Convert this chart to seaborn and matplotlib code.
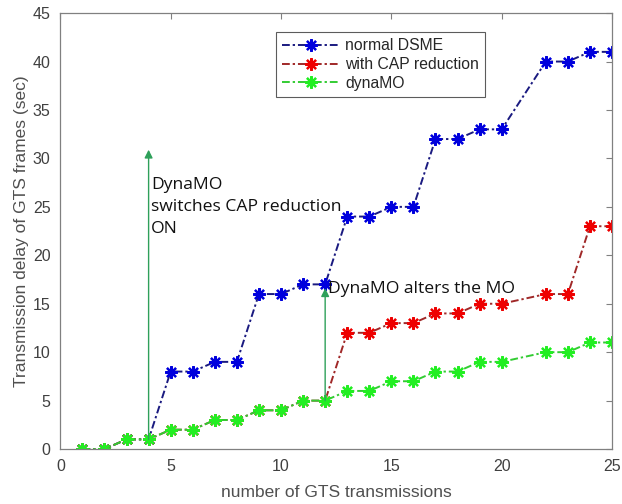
import matplotlib
matplotlib.use("Agg")
import matplotlib.pyplot as plt
import seaborn as sns
import pandas as pd
import numpy as np

x_vals = [1, 2, 3, 4, 5, 6, 7, 8, 9, 10, 11, 12, 13, 14, 15, 16, 17, 18, 19, 20, 22, 23, 24, 25]
normal_dsme = [0, 0, 1, 1, 8, 8, 9, 9, 16, 16, 17, 17, 24, 24, 25, 25, 32, 32, 33, 33, 40, 40, 41, 41]
cap_reduction = [0, 0, 1, 1, 2, 2, 3, 3, 4, 4, 5, 5, 12, 12, 13, 13, 14, 14, 15, 15, 16, 16, 23, 23]
dynamo = [0, 0, 1, 1, 2, 2, 3, 3, 4, 4, 5, 5, 6, 6, 7, 7, 8, 8, 9, 9, 10, 10, 11, 11]
series_names = ["normal DSME", "with CAP reduction", "dynaMO"]
x_ticks = [0, 5, 10, 15, 20, 25]
y_ticks = [0, 5, 10, 15, 20, 25, 30, 35, 40, 45]

df = pd.DataFrame({
    "x": x_vals * 3,
    "y": normal_dsme + cap_reduction + dynamo,
    "series": [series_names[0]] * len(x_vals) + [series_names[1]] * len(x_vals) + [series_names[2]] * len(x_vals),
})

sns.set_style("white")
plt.rcParams["font.family"] = ["Liberation Sans", "DejaVu Sans"]

fig = plt.figure(figsize=(6.22, 5.04), dpi=100)
ax = fig.add_axes([0.097, 0.109, 0.887, 0.865])

line_colors = ["#1a1a80", "#a02828", "#33cc33"]
marker_colors = ["#0000dd", "#ee0000", "#22ee22"]
asterisk = (8, 2, 0)

for name, lc, mc in zip(series_names, line_colors, marker_colors):
    sub = df[df["series"] == name]
    sns.lineplot(data=sub, x="x", y="y", ax=ax, color=lc, linestyle=(0, (4, 1.5, 1.2, 1.5)), linewidth=1.4,
                 marker=asterisk, markersize=9, markeredgecolor=mc, markerfacecolor=mc,
                 markeredgewidth=1.6, label=name, estimator=None, sort=False)

# annotation arrows
arrow_col = "#2ea05a"
ax.annotate("", xy=(4, 30.9), xytext=(4, 1), arrowprops=dict(arrowstyle="-|>", color=arrow_col, lw=1.0, mutation_scale=12, shrinkA=0, shrinkB=0))
ax.annotate("", xy=(12, 16.6), xytext=(12, 5), arrowprops=dict(arrowstyle="-|>", color=arrow_col, lw=1.0, mutation_scale=12, shrinkA=0, shrinkB=0))
ax.text(4.12, 25.0, "DynaMO\nswitches CAP reduction\nON", fontsize=12.6, family=["Open Sans", "DejaVu Sans"],
        va="center", ha="left", color="#111111", linespacing=1.5)
ax.text(12.15, 16.5, "DynaMO alters the MO", fontsize=12.6, family=["Open Sans", "DejaVu Sans"],
        va="center", ha="left", color="#111111")

ax.set_xlim(0, 25)
ax.set_ylim(0, 45)
ax.set_xticks(x_ticks)
ax.set_yticks(y_ticks)
ax.tick_params(direction="in", top=True, right=True, length=4, colors="#808080", labelcolor="#404040", labelsize=11.5, pad=7)
for s in ax.spines.values():
    s.set_color("#808080")
    s.set_linewidth(0.9)
ax.set_xlabel("number of GTS transmissions", fontsize=12.5, color="#505050", labelpad=8)
ax.set_ylabel("Transmission delay of GTS frames (sec)", fontsize=12.5, color="#505050", labelpad=3)

leg = ax.legend(loc="upper left", bbox_to_anchor=(0.391, 0.957), fontsize=11.3, frameon=True,
                fancybox=False, edgecolor="#333333", borderpad=0.4, labelspacing=0.25, handlelength=3.6,
                handletextpad=0.4, borderaxespad=0)
leg.get_frame().set_linewidth(0.8)

fig.savefig("out.png", dpi=100)
